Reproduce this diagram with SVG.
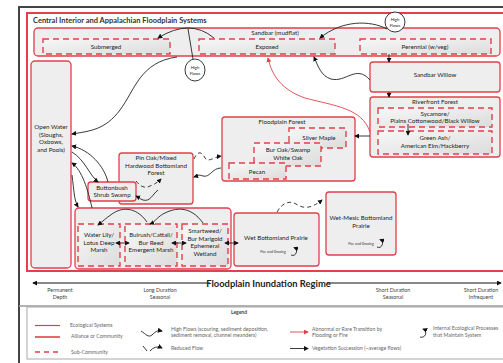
<svg xmlns="http://www.w3.org/2000/svg" width="503" height="363" viewBox="0 0 503 363">
<defs>
<linearGradient id="gd" x1="0" y1="0" x2="1" y2="1">
<stop offset="0" stop-color="#f7f7f7"/><stop offset="1" stop-color="#dcdcdc"/>
</linearGradient>
<marker id="ab" viewBox="0 0 6 6" refX="5" refY="3" markerWidth="5" markerHeight="5" markerUnits="userSpaceOnUse" orient="auto-start-reverse"><path d="M0,0 L6,3 L0,6 z" fill="#111"/></marker>
<marker id="ar" viewBox="0 0 6 6" refX="5" refY="3" markerWidth="5" markerHeight="5" markerUnits="userSpaceOnUse" orient="auto-start-reverse"><path d="M0,0 L6,3 L0,6 z" fill="#e2404a"/></marker>
</defs>
<style>
.sys{fill:#eeeeee;stroke:#e2404a;stroke-width:1.3}
.sub{fill:url(#gd);stroke:#e2404a;stroke-width:1.4;stroke-dasharray:6 4}
.t{font-family:Lato,"Open Sans",sans-serif;font-size:6.2px;fill:#222;text-anchor:middle}
.ts{font-family:Lato,"Open Sans",sans-serif;font-size:3.6px;fill:#333;text-anchor:middle}
.hf{font-family:Lato,"Open Sans",sans-serif;font-size:4.2px;fill:#222;text-anchor:middle}
.ax{font-family:Lato,"Open Sans",sans-serif;font-size:5.3px;fill:#444;text-anchor:middle}
.lg{font-family:Lato,"Open Sans",sans-serif;font-size:5.2px;fill:#666}
.c{fill:none;stroke:#222;stroke-width:0.9}
.cd{fill:none;stroke:#222;stroke-width:0.9;stroke-dasharray:4 3}
.cr{fill:none;stroke:#e2404a;stroke-width:0.9}
</style>
<rect width="503" height="363" fill="#fff"/>
<g id="frame">
<rect x="19" y="7" width="500" height="370" fill="none" stroke="#444" stroke-width="2"/>
<rect x="27" y="13" width="490" height="258" fill="none" stroke="#e2404a" stroke-width="2"/>
<text x="33" y="23" style="font-family:Lato,'Open Sans',sans-serif;font-size:7.5px;fill:#333;font-weight:bold">Central Interior and Appalachian Floodplain Systems</text>
</g>
<g id="sandbar">
<rect class="sys" x="34" y="28" width="466" height="28" rx="4"/>
<text class="t" x="275" y="35">Sandbar (mudflat)</text>
</g>
<g id="submerged"><rect class="sub" x="43" y="39" width="127" height="15"/><text class="t" x="106" y="48.5">Submerged</text></g>
<g id="exposed"><rect class="sub" x="199" y="39" width="136" height="15"/><text class="t" x="267" y="48.5">Exposed</text></g>
<g id="perennial"><rect class="sub" x="360" y="39" width="131" height="15"/><text class="t" x="425" y="48.5">Perennial (w/veg)</text></g>
<g id="sandbar-willow"><rect class="sys" x="370" y="62" width="130" height="30" rx="3"/><text class="t" x="435" y="77">Sandbar Willow</text></g>
<g id="riverfront">
<rect class="sys" x="370" y="97" width="130" height="60" rx="3"/>
<text class="t" x="435" y="103.5">Riverfront Forest</text>
<rect class="sub" x="378" y="108" width="114" height="19"/>
<text class="t" x="435" y="115.5">Sycamore/</text>
<text class="t" x="435" y="123">Plains Cottonwood/Black Willow</text>
<rect class="sub" x="378" y="131" width="114" height="23"/>
<text class="t" x="435" y="140">Green Ash/</text>
<text class="t" x="435" y="148">American Elm/Hackberry</text>
</g>
<g id="floodplain-forest">
<rect class="sys" x="222" y="117" width="133" height="64" rx="3"/>
<text class="t" x="282" y="123.5">Floodplain Forest</text>
<rect class="sub" x="289" y="128" width="57" height="20"/>
<text class="t" x="319" y="140">Silver Maple</text>
<rect class="sub" x="254" y="143" width="67" height="23"/>
<text class="t" x="288" y="152">Bur Oak/Swamp</text>
<text class="t" x="288" y="159.5">White Oak</text>
<rect class="sub" x="229" y="163" width="57" height="16"/>
<text class="t" x="257" y="173.5">Pecan</text>
</g>
<g id="open-water">
<rect class="sys" x="31" y="61" width="40" height="207" rx="4"/>
<text class="t" x="51" y="129">Open Water</text>
<text class="t" x="51" y="136.5">(Sloughs,</text>
<text class="t" x="51" y="144">Oxbows,</text>
<text class="t" x="51" y="151.5">and Pools)</text>
</g>
<g id="pin-oak">
<rect class="sys" x="119" y="153" width="74" height="51" rx="3"/>
<text class="t" x="156" y="160">Pin Oak/Mixed</text>
<text class="t" x="156" y="167.5">Hardwood Bottomland</text>
<text class="t" x="156" y="175">Forest</text>
</g>
<g id="buttonbush">
<rect class="sys" x="88" y="182" width="48" height="19" rx="3"/>
<text class="t" x="112" y="189.5">Buttonbush</text>
<text class="t" x="112" y="197">Shrub Swamp</text>
</g>
<g id="marsh">
<rect class="sys" x="75" y="208" width="156" height="61" rx="4"/>
<rect class="sub" x="78" y="224" width="42" height="42"/>
<text class="t" x="99" y="237">Water Lily/</text>
<text class="t" x="99" y="244.5">Lotus Deep</text>
<text class="t" x="99" y="252">Marsh</text>
<rect class="sub" x="125" y="224" width="52" height="42"/>
<text class="t" x="151" y="237">Bulrush/Cattail/</text>
<text class="t" x="151" y="244.5">Bur Reed</text>
<text class="t" x="151" y="252">Emergent Marsh</text>
<rect class="sub" x="182" y="224" width="46" height="42"/>
<text class="t" x="205" y="233">Smartweed/</text>
<text class="t" x="205" y="240.5">Bur Marigold</text>
<text class="t" x="205" y="248">Ephemeral</text>
<text class="t" x="205" y="255.5">Wetland</text>
</g>
<g id="wet-bottomland">
<rect class="sys" x="234" y="213" width="85" height="53" rx="3"/>
<text class="t" x="276" y="240">Wet Bottomland Prairie</text>
<text class="ts" x="273" y="253">Fire and Grazing</text>
<path class="c" d="M294,247.5 A4,4 0 1 1 291,255" stroke-width="1.1" marker-start="url(#ab)"/>
</g>
<g id="wet-mesic">
<rect class="sys" x="326" y="192" width="70" height="63" rx="3"/>
<text class="t" x="361" y="220">Wet-Mesic Bottomland</text>
<text class="t" x="361" y="227.5">Prairie</text>
<text class="ts" x="361" y="244.5">Fire and Grazing</text>
<path class="c" d="M380,239.5 A4,4 0 1 1 377,247" stroke-width="1.1" marker-start="url(#ab)"/>
</g>
<g id="high-flows-1">
<ellipse cx="195" cy="70" rx="10" ry="11" fill="#fff" stroke="#222" stroke-width="0.9"/>
<text class="hf" x="195" y="69">High</text><text class="hf" x="195" y="74.5">Flows</text>
</g>
<g id="high-flows-2">
<ellipse cx="395" cy="22" rx="10" ry="10" fill="#fff" stroke="#222" stroke-width="0.9"/>
<text class="hf" x="395" y="21">High</text><text class="hf" x="395" y="26.5">Flows</text>
</g>
<g id="connectors">
<path class="c" d="M214,38 Q190,18 158,38" marker-end="url(#ab)"/>
<path class="c" d="M193,59 L188,29"/>
<path class="c" d="M387,29 C370,20 342,20 320,38" marker-end="url(#ab)"/>
<path class="c" d="M177,57 C140,62 135,90 120,110 C105,130 90,131 72,134" marker-end="url(#ab)"/>
<path class="cr" d="M370,132 C362,108 335,106 305,98 C282,90 272,76 268,58" marker-end="url(#ar)"/>
<path class="c" d="M370,80 C356,64 346,83 331,79 C321,76 318,66 314,57" marker-end="url(#ab)"/>
<path class="c" d="M389,54 L389,62" marker-end="url(#ab)"/>
<path class="c" d="M389,92 L389,97" marker-end="url(#ab)"/>
<path class="c" d="M408,124 L408,135" marker-end="url(#ab)"/>
<path class="c" d="M370,136 L355,136" marker-end="url(#ab)"/>
<path class="cd" d="M194,159 C198,150 202,152 205,158 C208,163 214,157 221,156" marker-end="url(#ab)"/>
<path class="c" d="M221,168 C212,168 210,178 203,176 C198,174 197,176 194,177" marker-end="url(#ab)"/>
<path class="cd" d="M136,181 Q143,190 150,186 Q156,184 161,179" marker-end="url(#ab)"/>
<path class="c" d="M158,190 C152,195 150,202 143,200 C140,199 138,197 136,196" marker-end="url(#ab)"/>
<path class="c" d="M108,182 C104,166 90,150 72,146" marker-end="url(#ab)"/>
<path class="c" d="M72,152 C85,160 90,176 98,182" marker-end="url(#ab)"/>
<path class="c" d="M92,208 C88,190 82,170 72,163" marker-end="url(#ab)"/>
<path class="c" d="M72,175 C74,190 74,200 78,207" marker-end="url(#ab)"/>
<path class="c" d="M203,223 C190,205 175,208 165,213 C158,216 155,222 150,224" marker-end="url(#ab)"/>
<path class="c" d="M147,222 C135,205 120,208 112,214 C106,218 102,222 98,225" marker-end="url(#ab)"/>
<path class="c" d="M116,243 L129,243" marker-start="url(#ab)" marker-end="url(#ab)"/>
<path class="c" d="M172,243 L186,243" marker-start="url(#ab)" marker-end="url(#ab)"/>
<path class="c" d="M225,243 L238,243" marker-start="url(#ab)" marker-end="url(#ab)"/>
<path class="cd" d="M277,212 C282,203 290,200 296,204 C302,208 310,210 322,200" marker-end="url(#ab)"/>
</g>
<g id="axis">
<path d="M210,283 L33,283" stroke="#111" stroke-width="1" marker-end="url(#ab)"/>
<path d="M327,283 L501,283" stroke="#111" stroke-width="1" marker-end="url(#ab)"/>
<text x="268.5" y="286.5" style="font-family:Lato,'Open Sans',sans-serif;font-size:9.4px;font-weight:bold;fill:#222;text-anchor:middle">Floodplain Inundation Regime</text>
<text class="ax" x="60" y="291.5">Permanent</text><text class="ax" x="60" y="298.5">Depth</text>
<text class="ax" x="160" y="291.5">Long Duration</text><text class="ax" x="160" y="298.5">Seasonal</text>
<text class="ax" x="393" y="291.5">Short Duration</text><text class="ax" x="393" y="298.5">Seasonal</text>
<text class="ax" x="481" y="291.5">Short Duration</text><text class="ax" x="481" y="298.5">Infrequent</text>
</g>
<g id="legend">
<line x1="19" y1="306" x2="503" y2="306" stroke="#999" stroke-width="1.5"/>
<rect x="27" y="307" width="480" height="52" fill="none" stroke="#aaa" stroke-width="1"/>
<text x="239" y="314" style="font-family:Lato,'Open Sans',sans-serif;font-size:5px;fill:#444;font-weight:bold;text-anchor:middle">Legend</text>
<line x1="35" y1="325.5" x2="60" y2="325.5" stroke="#e2404a" stroke-width="1.2"/>
<text class="lg" x="70" y="327">Ecological Systems</text>
<line x1="35" y1="337" x2="60" y2="337" stroke="#e2404a" stroke-width="1.6"/>
<text class="lg" x="71" y="337.5">Alliance or Community</text>
<line x1="35" y1="352" x2="62" y2="352" stroke="#e2404a" stroke-width="1.6" stroke-dasharray="5 4"/>
<text class="lg" x="71" y="353.5">Sub-Community</text>
<path class="c" d="M141,331 C146,334 148,338 152,335 C155,332 157,330 162,331" marker-end="url(#ab)"/>
<text class="lg" x="171" y="330.5">High Flows (scouring, sediment deposition,</text>
<text class="lg" x="171" y="337">sediment removal, channel meanders)</text>
<path class="c" d="M143,346 L147,351"/>
<path class="c" d="M150,351 Q155,345 162,348" marker-end="url(#ab)"/>
<text class="lg" x="171" y="349.5">Reduced Flow</text>
<path class="cr" d="M290,332 L308,332" stroke-width="1.1" marker-end="url(#ar)"/>
<text class="lg" x="312" y="330.5">Abnormal or Rare Transition by</text>
<text class="lg" x="312" y="337">Flooding or Fire</text>
<path class="c" d="M290,348.5 L308,348.5" stroke-width="1.1" marker-end="url(#ab)"/>
<text class="lg" x="312" y="350">Vegetation Succession (~average flows)</text>
<path class="c" d="M423,329 A4,4 0 1 1 420,337" stroke-width="1.1" marker-start="url(#ab)"/>
<text class="lg" x="433" y="330">Internal Ecological Processes</text>
<text class="lg" x="433" y="336.5">that Maintain System</text>
</g>
</svg>
